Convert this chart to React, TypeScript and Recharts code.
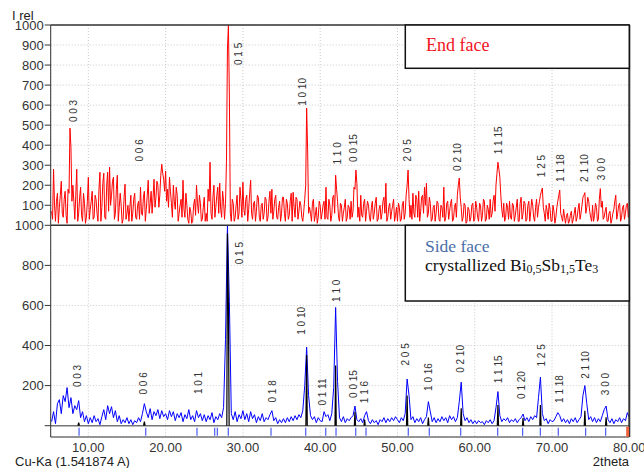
import { ComposedChart, Line, Scatter, XAxis, YAxis, CartesianGrid, ReferenceLine } from 'recharts';

// 2theta scans, start and step of each measurement
const SCAN_START = 5.25;
const END_STEP = 0.125;
const SIDE_STEP = 0.25;

// End face, intensity per step (5.25 .. 80.00)
const endFace = [
  70, 30, 280, 100, 20, 120, 160, 10, 90, 150, 220, 60, 40, 130, 170, 50, 10, 180, 160, 485, 390, 120, 200, 120, 30, 150, 280, 20, 60, 140, 190, 50, 20, 160, 110, 10, 40, 120, 240, 30,
  80, 120, 170, 30, 40, 150, 130, 60, 20, 180, 265, 20, 90, 210, 260, 40, 30, 200, 265, 70, 290, 100, 150, 220, 240, 30, 60, 180, 250, 20, 90, 160, 100, 10, 30, 140, 205, 30, 60, 100,
  20, 90, 150, 20, 60, 130, 160, 40, 30, 100, 120, 30, 190, 60, 50, 140, 170, 20, 80, 150, 225, 60, 110, 170, 60, 140, 230, 90, 140, 220, 200, 90, 150, 250, 305, 260, 230, 170, 270, 120,
  180, 90, 240, 170, 110, 40, 200, 120, 80, 190, 150, 20, 60, 100, 130, 40, 225, 80, 40, 160, 100, 30, 10, 90, 70, 10, 20, 100, 130, 50, 200, 110, 60, 150, 110, 20, 30, 90, 140, 20,
  60, 20, 180, 120, 315, 60, 30, 140, 200, 40, 90, 150, 190, 60, 210, 80, 40, 170, 120, 30, 110, 320, 880, 1000, 650, 60, 20, 130, 110, 20, 40, 100, 150, 30, 60, 190, 130, 40, 215, 80,
  50, 130, 150, 20, 80, 160, 225, 60, 30, 110, 120, 20, 70, 150, 140, 40, 20, 100, 110, 30, 60, 140, 130, 20, 40, 120, 170, 60, 180, 30, 70, 130, 150, 40, 30, 90, 120, 20, 60, 140,
  140, 60, 20, 130, 110, 30, 50, 120, 160, 20, 165, 90, 40, 140, 130, 30, 70, 120, 100, 40, 20, 70, 130, 200, 585, 380, 60, 90, 60, 20, 110, 130, 20, 50, 90, 10, 40, 120, 100, 30,
  60, 100, 120, 30, 190, 40, 30, 130, 100, 20, 50, 140, 150, 60, 250, 180, 120, 40, 20, 110, 100, 20, 60, 90, 130, 20, 40, 100, 90, 30, 120, 40, 70, 190, 180, 276, 210, 40, 90, 20,
  150, 50, 40, 110, 130, 20, 70, 120, 100, 40, 20, 90, 120, 30, 60, 110, 140, 20, 30, 80, 100, 30, 60, 120, 140, 60, 210, 20, 40, 90, 110, 30, 70, 100, 130, 20, 50, 90, 20, 110,
  90, 20, 30, 100, 120, 30, 60, 150, 200, 276, 130, 40, 100, 30, 160, 60, 40, 150, 130, 40, 170, 20, 70, 140, 150, 60, 190, 100, 210, 40, 60, 140, 110, 20, 30, 90, 100, 20, 60, 120,
  110, 30, 20, 100, 90, 40, 190, 20, 40, 110, 120, 30, 70, 110, 130, 20, 30, 90, 110, 40, 150, 200, 236, 140, 90, 20, 40, 110, 100, 10, 20, 90, 80, 20, 40, 100, 110, 20, 30, 120,
  90, 40, 20, 110, 100, 20, 50, 130, 120, 20, 30, 100, 80, 30, 130, 40, 60, 120, 150, 70, 200, 260, 315, 280, 240, 150, 80, 40, 110, 20, 40, 110, 90, 30, 120, 40, 30, 110, 100, 20,
  50, 90, 130, 20, 20, 110, 140, 30, 60, 120, 110, 20, 30, 100, 120, 20, 70, 130, 100, 40, 20, 90, 130, 40, 90, 120, 150, 170, 186, 90, 60, 20, 100, 70, 30, 110, 80, 20, 20, 100,
  70, 10, 40, 90, 120, 150, 176, 60, 40, 20, 80, 40, 10, 50, 60, 10, 20, 50, 70, 10, 30, 60, 90, 20, 40, 80, 110, 30, 60, 100, 140, 150, 163, 60, 90, 140, 120, 70, 40, 20,
  100, 20, 50, 110, 90, 20, 30, 130, 183, 90, 120, 30, 40, 70, 90, 20, 20, 60, 70, 10, 30, 60, 80, 120, 150, 30, 60, 100, 110, 20, 40, 90, 100, 30, 60, 100, 110, 40, 80,
];

// Side face, intensity per step (5.25 .. 80.00)
const sideFace = [
  20, 70, 10, 110, 130, 60, 150, 120, 190, 90, 140, 60, 100, 80, 125, 40, 70, 20, 50, 10,
  40, 15, 50, 20, 35, 5, 45, 80, 30, 100, 60, 95, 40, 75, 20, 50, 10, 30, 15, 40,
  10, 30, 5, 25, 15, 40, 20, 60, 110, 70, 40, 85, 30, 70, 50, 80, 35, 75, 45, 60,
  30, 75, 45, 70, 25, 60, 40, 65, 20, 55, 35, 80, 30, 50, 20, 75, 40, 60, 25, 55,
  20, 50, 30, 65, 15, 45, 30, 60, 40, 90, 430, 1000, 620, 60, 30, 70, 20, 55, 35, 75,
  30, 60, 20, 70, 35, 55, 15, 45, 25, 60, 20, 40, 30, 55, 75, 25, 40, 10, 30, 15,
  35, 15, 40, 20, 45, 25, 50, 30, 55, 40, 75, 200, 392, 150, 50, 30, 45, 15, 40, 25,
  20, 70, 45, 55, 25, 60, 190, 590, 220, 40, 20, 45, 15, 35, 25, 40, 50, 98, 30, 20,
  35, 15, 50, 70, 25, 10, 30, 15, 25, 5, 30, 20, 40, 15, 35, 20, 40, 25, 45, 30,
  15, 40, 25, 60, 233, 150, 30, 45, 15, 35, 20, 40, 10, 30, 45, 120, 70, 20, 40, 15,
  35, 20, 45, 25, 40, 15, 50, 30, 45, 20, 40, 120, 217, 60, 25, 40, 15, 30, 10, 25,
  10, 25, 15, 20, 5, 25, 15, 30, 10, 25, 90, 170, 50, 20, 35, 25, 40, 15, 30, 20,
  35, 15, 30, 40, 58, 25, 40, 20, 45, 30, 50, 40, 140, 242, 60, 25, 35, 10, 30, 20,
  25, 45, 65, 50, 20, 35, 15, 30, 10, 35, 20, 40, 15, 30, 45, 150, 200, 110, 30, 45,
  20, 40, 15, 35, 20, 50, 80, 98, 30, 15, 35, 10, 30, 20, 40, 15, 35, 25, 65, 40,
];

// calculated phase peaks (black), [2theta, intensity], null breaks the line
const phasePeaks: [number, number | null][] = [
  [8.65, 0], [8.75, 15], [8.85, 0], [8.9, null],
  [17.15, 0], [17.25, 20], [17.35, 0], [17.4, null],
  [27.92, 0], [28.0, 960], [28.12, 620], [28.22, 0], [28.3, null],
  [38.15, 0], [38.25, 353], [38.33, 0], [38.4, null],
  [41.92, 0], [42.0, 300], [42.08, 0], [42.2, null],
  [44.42, 0], [44.5, 70], [44.58, 0], [44.7, null],
  [45.67, 0], [45.75, 30], [45.83, 0], [45.9, null],
  [51.17, 0], [51.25, 150], [51.33, 0], [51.4, null],
  [53.92, 0], [54.0, 40], [54.08, 0], [54.2, null],
  [58.17, 0], [58.25, 87], [58.33, 0], [58.4, null],
  [62.92, 0], [63.0, 103], [63.08, 0], [63.2, null],
  [66.17, 0], [66.25, 38], [66.33, 0], [66.4, null],
  [68.42, 0], [68.5, 103], [68.58, 0], [68.7, null],
  [74.17, 0], [74.25, 75], [74.33, 0], [74.4, null],
  [76.92, 0], [77.0, 42], [77.08, 0],
];

// reference pattern positions (tick strip)
const refLines = [8.8, 17.43, 24.06, 26.35, 26.69, 28.11, 33.64, 38.13, 40.72, 42.05, 44.6, 45.93,
  51.4, 54.12, 58.18, 62.97, 66.2, 68.49, 70.81, 74.35, 76.94];
const refLinesOther = [79.79];

// hkl labels: [2theta, label height, hkl]
const endHkl: [number, number, string][] = [
  [8.11, 571, '0 0 3'], [16.56, 374, '0 0 6'], [29.46, 856, '0 1 5'], [37.69, 666, '1 0 10'],
  [42.18, 359, '1 1 0'], [44.34, 386, '0 0 15'], [51.36, 374, '2 0 5'], [57.83, 341, '0 2 10'],
  [63.1, 424, '1 1 15'], [68.61, 296, '1 2 5'], [71.06, 286, '1 1 18'], [74.23, 286, '2 1 10'],
  [76.37, 281, '3 0 0'],
];
const sideHkl: [number, number, string][] = [
  [8.58, 248, '0 0 3'], [17.12, 211, '0 0 6'], [24.32, 213, '1 0 1'], [29.54, 861, '0 1 5'],
  [33.8, 171, '0 1 8'], [37.61, 523, '1 0 10'], [40.33, 168, '0 1 11'], [42.09, 673, '1 1 0'],
  [44.25, 208, '0 0 15'], [45.76, 168, '1 1 6'], [51.1, 356, '2 0 5'], [54.04, 243, '1 0 16'],
  [58.13, 333, '0 2 10'], [63.1, 281, '1 1 15'], [66.11, 203, '0 1 20'], [68.7, 351, '1 2 5'],
  [70.94, 183, '1 1 18'], [74.3, 303, '2 1 10'], [76.98, 208, '3 0 0'],
];

const xTicks = [10, 20, 30, 40, 50, 60, 70, 80];
const topTicks = [100, 200, 300, 400, 500, 600, 700, 800, 900, 1000];
const bottomTicks = [0, 200, 400, 600, 800, 1000];

const SANS = 'Liberation Sans, Arial, sans-serif';
const SERIF = 'Liberation Serif, Times New Roman, serif';

const endData = endFace.map((v, i) => ({ x: +(SCAN_START + i * END_STEP).toFixed(3), v }));
const sideData = sideFace.map((v, i) => ({ x: +(SCAN_START + i * SIDE_STEP).toFixed(3), v }));
const peakData = phasePeaks.map(([x, f]) => ({ x, f }));
const endLabelData = endHkl.map(([x, y, t]) => ({ x, y, t }));
const sideLabelData = sideHkl.map(([x, y, t]) => ({ x, y, t }));
const refData = refLines.map((x) => ({ x, y: -30 }));
const refOtherData = refLinesOther.map((x) => ({ x, y: -30 }));

const HklLabel = (p: any) => (
  <text
    x={p.cx}
    y={p.cy}
    transform={`rotate(-90 ${p.cx} ${p.cy})`}
    textAnchor="middle"
    dominantBaseline="central"
    fontSize={10}
    fontFamily={SANS}
    fill="#333"
  >
    {p.payload.t}
  </text>
);

const RefTick = (p: any) => (
  <line x1={p.cx} x2={p.cx} y1={p.cy - 4} y2={p.cy + 4} stroke="#4a5cf0" strokeWidth={1.2} />
);
const RefTickOther = (p: any) => (
  <rect x={p.cx - 1.5} y={p.cy - 5} width={3} height={10} fill="#f0623e" />
);

const tickStyle = { fill: '#333', fontSize: 13, fontFamily: SANS };

export default function App() {
  return (
    <div style={{ position: 'absolute', left: 0, top: 0, width: 644, height: 468, background: '#fff' }}>
      <div style={{ position: 'absolute', left: 0, top: 0 }}>
        <ComposedChart width={644} height={226} margin={{ top: 25, right: 14.7, bottom: 0.7, left: 0 }}>
          <CartesianGrid stroke="#c8c8c8" strokeDasharray="1 2" />
          <XAxis dataKey="x" type="number" domain={[5.13, 80]} ticks={xTicks} allowDataOverflow hide />
          <YAxis
            type="number"
            domain={[0, 1000]}
            ticks={topTicks}
            interval={0}
            allowDataOverflow
            width={50.7}
            tick={tickStyle}
            tickSize={6}
            tickMargin={1}
            axisLine={{ stroke: '#333' }}
            tickLine={{ stroke: '#333' }}
          />
          <Line data={endData} dataKey="v" stroke="#ff0000" strokeWidth={1} dot={false} isAnimationActive={false} />
          <Scatter data={endLabelData} dataKey="y" shape={HklLabel} isAnimationActive={false} />
          <ReferenceLine y={1000} stroke="#333" strokeWidth={1.5} />
          <ReferenceLine x={80} stroke="#333" strokeWidth={2} />
        </ComposedChart>
      </div>
      <div style={{ position: 'absolute', left: 0, top: 200 }}>
        <ComposedChart width={644} height={268} margin={{ top: 25.3, right: 14.7, bottom: 0, left: 0 }}>
          <CartesianGrid stroke="#c8c8c8" strokeDasharray="1 2" />
          <XAxis
            dataKey="x"
            type="number"
            domain={[5.13, 80]}
            ticks={xTicks}
            interval={0}
            allowDataOverflow
            height={31}
            tick={tickStyle}
            tickFormatter={(v: number) => v.toFixed(2)}
            tickSize={4}
            tickMargin={2}
            tickLine={false}
            axisLine={{ stroke: '#333' }}
          />
          <YAxis
            type="number"
            domain={[-56.5, 1000]}
            ticks={bottomTicks}
            interval={0}
            allowDataOverflow
            width={50.7}
            tick={tickStyle}
            tickFormatter={(v: number) => (v === 0 ? '' : String(v))}
            tickSize={6}
            tickMargin={1}
            axisLine={{ stroke: '#333' }}
            tickLine={{ stroke: '#333' }}
          />
          <ReferenceLine y={0} stroke="#777" strokeWidth={1.5} />
          <Line data={sideData} dataKey="v" stroke="#0000ff" strokeWidth={1} dot={false} isAnimationActive={false} />
          <Line data={peakData} dataKey="f" stroke="#000" strokeWidth={1.2} dot={false} isAnimationActive={false} />
          <Scatter data={sideLabelData} dataKey="y" shape={HklLabel} isAnimationActive={false} />
          <Scatter data={refData} dataKey="y" shape={RefTick} isAnimationActive={false} />
          <Scatter data={refOtherData} dataKey="y" shape={RefTickOther} isAnimationActive={false} />
          <ReferenceLine y={1000} stroke="#333" strokeWidth={1.5} />
          <ReferenceLine x={80} stroke="#333" strokeWidth={2} />
        </ComposedChart>
      </div>
      <svg width={644} height={468} style={{ position: 'absolute', left: 0, top: 0, pointerEvents: 'none' }}>
        <rect x={405.3} y={25} width={224} height={43.3} fill="#fff" stroke="#111" strokeWidth={1.5} />
        <text x={426} y={51} fontSize={18} fontFamily={SERIF} fill="#f0141e">End face</text>
        <rect x={405.3} y={225.3} width={224} height={75.7} fill="#fff" stroke="#111" strokeWidth={1.5} />
        <text x={425} y={252} fontSize={17.5} fontFamily={SERIF} fill="#4a6ea9">Side face</text>
        <text x={425} y={271} fontSize={17.5} fontFamily={SERIF} fill="#111">
          crystallized Bi<tspan fontSize={12} dy={2}>0,5</tspan>
          <tspan dy={-2}>Sb</tspan>
          <tspan fontSize={12} dy={2}>1,5</tspan>
          <tspan dy={-2}>Te</tspan>
          <tspan fontSize={12} dy={2}>3</tspan>
        </text>
        <text x={12} y={20} fontSize={13} fontFamily={SANS} fill="#222">I rel</text>
        <text x={15} y={465.5} fontSize={13} fontFamily={SANS} fill="#222">Cu-Ka (1.541874 A)</text>
        <text x={629} y={465.5} fontSize={13} fontFamily={SANS} fill="#222" textAnchor="end">2theta</text>
      </svg>
    </div>
  );
}
